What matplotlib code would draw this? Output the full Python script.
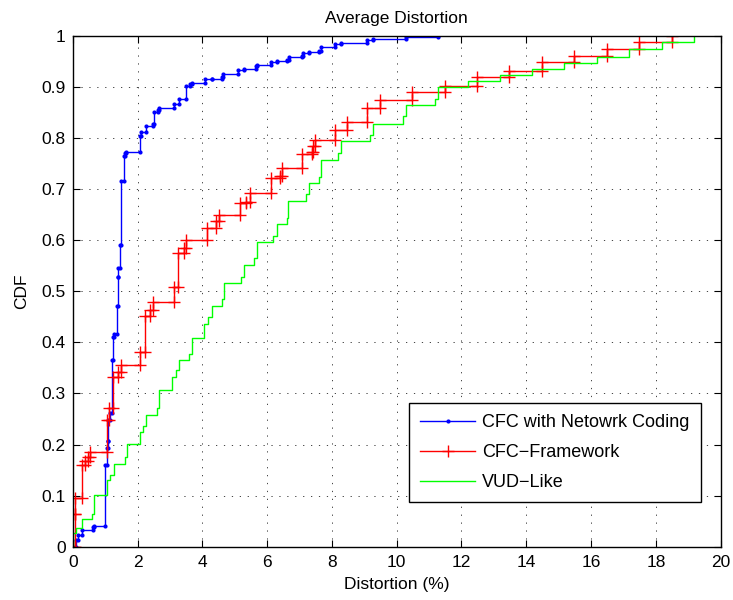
import matplotlib
matplotlib.use("Agg")
import matplotlib.pyplot as plt
import numpy as np

plt.rcParams["font.family"] = ["Liberation Sans", "DejaVu Sans"]

# step positions (distortion %) and CDF level reached at each step
cfc_nc_x = [0.02, 0.10, 0.15, 0.28, 0.64, 0.67, 1.00, 1.07, 1.08, 1.10, 1.15,
            1.20, 1.25, 1.28, 1.36, 1.39, 1.41, 1.46, 1.48, 1.58, 1.61, 1.63,
            2.08, 2.10, 2.26, 2.49, 2.51, 2.62, 2.66, 3.12, 3.28, 3.50, 3.62,
            3.67, 4.09, 4.29, 4.61, 4.65, 5.09, 5.29, 5.66, 5.70, 6.11, 6.30,
            6.62, 6.67, 7.08, 7.10, 7.30, 7.61, 7.65, 8.10, 8.29, 9.09, 9.28,
            10.29, 11.28]
cfc_nc_y = [0.000, 0.014, 0.023, 0.033, 0.038, 0.041, 0.160, 0.193, 0.207, 0.248, 0.262,
            0.365, 0.411, 0.416, 0.471, 0.527, 0.545, 0.590, 0.716, 0.765, 0.770, 0.773,
            0.804, 0.812, 0.823, 0.827, 0.851, 0.854, 0.858, 0.867, 0.876, 0.902, 0.906,
            0.908, 0.915, 0.916, 0.920, 0.925, 0.933, 0.935, 0.940, 0.943, 0.949, 0.951,
            0.953, 0.959, 0.960, 0.966, 0.968, 0.970, 0.977, 0.984, 0.986, 0.992, 0.993,
            0.997, 1.000]

cfc_fw_x = [0.07, 0.06, 0.08, 0.28, 0.38, 0.48, 0.52, 1.05, 1.12, 1.25, 1.39,
            1.49, 2.08, 2.23, 2.39, 2.49, 3.12, 3.26, 3.44, 3.50, 4.14, 4.42,
            4.50, 5.16, 5.35, 5.47, 6.11, 6.40, 6.45, 7.07, 7.38, 7.43, 7.48,
            8.10, 8.48, 9.09, 9.48, 10.48, 11.49, 12.49, 13.48, 14.48, 15.47,
            16.48, 17.48, 18.49]
cfc_fw_y = [0.000, 0.065, 0.095, 0.160, 0.167, 0.176, 0.186, 0.248, 0.271, 0.333, 0.342,
            0.356, 0.382, 0.452, 0.463, 0.478, 0.508, 0.575, 0.585, 0.600, 0.624, 0.637,
            0.650, 0.673, 0.675, 0.693, 0.722, 0.725, 0.742, 0.768, 0.773, 0.784, 0.796,
            0.815, 0.832, 0.858, 0.874, 0.889, 0.902, 0.920, 0.931, 0.948, 0.961,
            0.973, 0.988, 1.000]

vud_x = [0.02, 0.02, 0.10, 0.28, 0.61, 0.66, 1.05, 1.15, 1.27, 1.61, 1.67,
         2.08, 2.16, 2.26, 2.61, 2.67, 3.06, 3.19, 3.29, 3.60, 3.67, 4.05,
         4.19, 4.29, 4.62, 4.67, 5.20, 5.29, 5.60, 5.68, 6.19, 6.30, 6.60,
         6.66, 7.19, 7.30, 7.60, 7.65, 8.20, 8.28, 9.18, 9.28, 10.19, 10.29,
         11.18, 11.28, 12.19, 13.18, 14.19, 15.17, 16.19, 17.18, 18.19, 19.18]
vud_y = [0.000, 0.026, 0.036, 0.054, 0.065, 0.101, 0.130, 0.140, 0.162, 0.175, 0.201,
         0.224, 0.237, 0.258, 0.271, 0.307, 0.333, 0.346, 0.366, 0.378, 0.409, 0.435,
         0.450, 0.472, 0.485, 0.516, 0.528, 0.552, 0.565, 0.596, 0.609, 0.631, 0.644,
         0.677, 0.690, 0.711, 0.724, 0.756, 0.770, 0.794, 0.805, 0.827, 0.843, 0.864,
         0.876, 0.899, 0.911, 0.923, 0.935, 0.946, 0.959, 0.973, 0.987, 1.000]

x_ticks = list(range(0, 21, 2))
y_ticks = [round(0.1 * i, 1) for i in range(11)]
y_tick_labels = ["0", "0.1", "0.2", "0.3", "0.4", "0.5", "0.6", "0.7", "0.8", "0.9", "1"]


def _stairs(x_values, y_values):
    # corners of the staircase: riser bottom and top at every step
    x = np.asarray(x_values, dtype=float)
    y = np.asarray(y_values, dtype=float)
    xs = np.repeat(x, 2)[1:]
    ys = np.repeat(y, 2)[:-1]
    return xs, ys


figure = plt.figure(figsize=(7.33, 6.0), dpi=100)
axis = figure.add_axes([0.0992, 0.0888, 0.884, 0.8517])

bx, by = _stairs(cfc_nc_x, cfc_nc_y)
axis.plot(bx, by, color="#0000ff", linewidth=1.0, marker="o", markersize=3.0,
          markeredgewidth=0, label="CFC with Netowrk Coding")
rx, ry = _stairs(cfc_fw_x, cfc_fw_y)
axis.plot(rx, ry, color="#ff0000", linewidth=1.0, marker="+", markersize=9,
          markeredgewidth=1.0, label="CFC\u2212Framework")
gx, gy = _stairs(vud_x, vud_y)
axis.plot(gx, gy, color="#00ff00", linewidth=1.0, label="VUD\u2212Like")

axis.set_xlim(0, 20)
axis.set_ylim(0, 1)
axis.set_xticks(x_ticks)
axis.set_yticks(y_ticks)
axis.set_yticklabels(y_tick_labels)
axis.tick_params(direction="in", top=True, right=True, length=5, width=0.8, labelsize=12.5)
axis.tick_params(axis="x", pad=6)
axis.tick_params(axis="y", pad=5)
axis.grid(True, color="0.15", linewidth=0.6, linestyle=(0, (1.5, 8)))
for spine in axis.spines.values():
    spine.set_linewidth(1.0)

axis.set_title("Average Distortion", fontsize=12.5, pad=9)
axis.set_xlabel("Distortion (%)", fontsize=12.5, labelpad=5)
axis.set_ylabel("CDF", fontsize=12.5, labelpad=9)

legend = axis.legend(loc="lower right", bbox_to_anchor=(0.969, 0.0875), borderaxespad=0,
                     fontsize=13, numpoints=1, handlelength=3.05, handletextpad=0.4,
                     fancybox=False, framealpha=1, edgecolor="black", borderpad=0.6,
                     labelspacing=0.72)
legend.get_frame().set_linewidth(1.0)

figure.savefig("out.png", dpi=100)
plt.close(figure)
